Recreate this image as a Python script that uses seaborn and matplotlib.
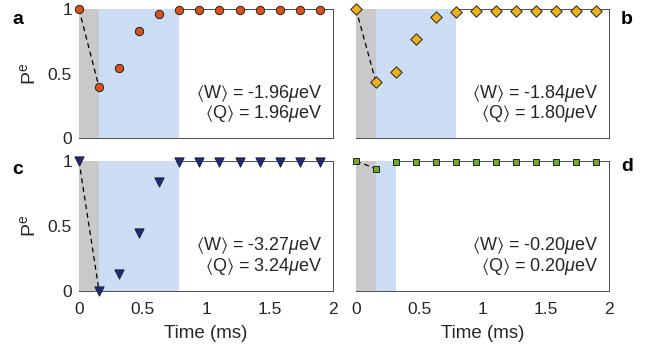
import matplotlib
matplotlib.use("Agg")
import matplotlib.pyplot as plt
import seaborn as sns
import numpy as np
import pandas as pd

sns.set_theme(style="white")
plt.rcParams['font.family'] = ['Liberation Sans', 'DejaVu Sans']
plt.rcParams['mathtext.fontset'] = 'custom'
plt.rcParams['mathtext.it'] = 'Liberation Sans:italic'
plt.rcParams['mathtext.rm'] = 'Liberation Sans'
plt.rcParams['mathtext.fallback'] = 'stixsans'

time_ms = [0.0, 0.158, 0.316, 0.474, 0.632, 0.79, 0.948, 1.106, 1.264, 1.422, 1.58, 1.738, 1.896]
pe_a = [1.0, 0.395, 0.543, 0.834, 0.96, 0.995, 0.995, 0.995, 0.995, 0.995, 0.995, 0.995, 0.995]
pe_b = [1.0, 0.436, 0.514, 0.767, 0.938, 0.977, 0.99, 0.99, 0.99, 0.99, 0.99, 0.99, 0.99]
pe_c = [1.0, 0.0, 0.13, 0.45, 0.84, 0.99, 0.99, 0.99, 0.99, 0.99, 0.99, 0.99, 0.99]
pe_d = [1.0, 0.94, 0.995, 0.995, 0.995, 0.995, 0.99, 0.995, 0.995, 0.995, 0.995, 0.995, 0.995]

work = ["-1.96", "-1.84", "-3.27", "-0.20"]
heat = ["1.96", "1.80", "3.24", "0.20"]
letters = ["a", "b", "c", "d"]
blue_end = [0.79, 0.79, 0.79, 0.316]
gray_end = 0.158

colors = ["#D95319", "#EDB120", "#1B2A86", "#6FAA2C"]
markers = ["o", "D", "v", "s"]
msizes = [36, 34, 44, 22]
series = [pe_a, pe_b, pe_c, pe_d]

W, H = 655, 358
fig = plt.figure(figsize=(W / 100, H / 100), dpi=100)
boxes = [(79, 9.3, 333, 138.3), (356, 9.3, 609, 138.3),
         (79, 161, 333, 291), (356, 161, 609, 291)]
axc = "#4D4D4D"
txtc = "#262626"
for i, (l, t, r, b) in enumerate(boxes):
    ax = fig.add_axes([l / W, 1 - b / H, (r - l) / W, (b - t) / H])
    df = pd.DataFrame({"t": time_ms, "p": series[i]})
    ax.axvspan(0, gray_end, color="#C9C9C9", lw=0, zorder=2.6)
    ax.axvspan(gray_end, blue_end[i], color="#CCDEF6", lw=0, zorder=2.6)
    sns.lineplot(data=df.iloc[:2], x="t", y="p", ax=ax, color="black",
                 linestyle=(0, (4, 3)), lw=0.9, zorder=3, clip_on=False)
    sns.scatterplot(data=df, x="t", y="p", ax=ax, marker=markers[i], s=msizes[i],
                    color=colors[i], edgecolor="#222222", linewidth=0.7,
                    zorder=4, clip_on=False)
    ax.set_xlim(0, 2)
    ax.set_ylim(0, 1)
    ax.set_xticks([0, 0.5, 1, 1.5, 2])
    ax.set_yticks([0, 0.5, 1])
    ax.tick_params(direction="in", length=3, width=0.6, color=axc, labelsize=12.5,
                   labelcolor=txtc, pad=5, top=False, right=False)
    ax.tick_params(axis="x", pad=8)
    for s in ax.spines.values():
        s.set_color(axc)
        s.set_linewidth(0.7)
    ax.set_xlabel("")
    ax.set_ylabel("")
    if i % 2 == 0:
        ax.set_yticklabels(["0", "0.5", "1"])
        ax.set_ylabel(r"P$^\mathregular{e}$", fontsize=14, color=txtc, labelpad=6)
    else:
        ax.set_yticklabels([])
    if i >= 2:
        ax.set_xticklabels(["0", "0.5", "1", "1.5", "2"])
        ax.set_xlabel("Time (ms)", fontsize=13.5, color=txtc, labelpad=6)
    else:
        ax.set_xticklabels([])
    ax.text(1.92, 0.35, r"$\langle$W$\rangle$ = " + work[i] + r"$\mathit{\mu}$" + "eV",
            ha="right", va="center", fontsize=13, color=txtc, zorder=5)
    ax.text(1.92, 0.19, r"$\langle$Q$\rangle$ = " + heat[i] + r"$\mathit{\mu}$" + "eV",
            ha="right", va="center", fontsize=13, color=txtc, zorder=5)

letter_pos = [(18, 20), (627, 20), (18, 169), (627, 167)]
for lt, (x, y) in zip(letters, letter_pos):
    fig.text(x / W, 1 - y / H, lt, fontsize=14, fontweight="bold", ha="center",
             va="center", color="black")

fig.savefig("out.png", dpi=100)
